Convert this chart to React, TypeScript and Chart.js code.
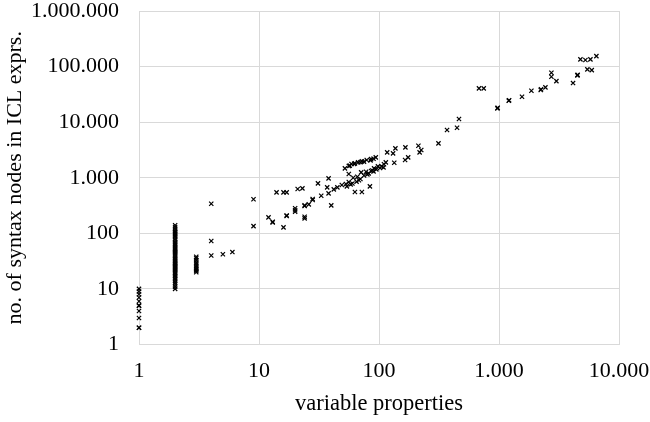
import { useEffect, useRef } from 'react';
import { Chart, registerables } from 'chart.js';

Chart.register(...registerables);

// y values (syntax nodes) of the expressions with 1, 2 and 3 variable properties
const onePropNodes = [2, 2, 3, 4, 5, 5, 6, 7, 8, 9, 10];
const twoPropNodes = [
  10, 11, 12, 13, 14, 15, 16, 17, 18, 19, 20, 21, 22, 23, 24, 25, 26, 27, 28, 29, 30, 32, 34, 36, 38,
  40, 42, 44, 46, 48, 50, 53, 56, 60, 63, 66, 70, 75, 80, 85, 90, 95, 100, 105, 110, 120, 130, 140,
];
const threePropNodes = [20, 21, 22, 23, 24, 26, 28, 30, 33, 36, 38];

// [variable properties, syntax nodes]
const smallPairs: [number, number][] = [
  [4, 40], [4, 73], [4, 340], [5, 42], [6, 46], [9, 135], [9, 410], [12, 194], [13, 157], [13, 162],
  [14, 546], [16, 128], [16, 546], [17, 205], [17, 210], [17, 546], [20, 245], [20, 260], [20, 282],
  [21, 626], [23, 645], [24, 186], [24, 199], [24, 310], [24, 319], [26, 332], [28, 397], [28, 414],
  [31, 793], [33, 474], [37, 672], [38, 524], [38, 975], [40, 319], [42, 618], [45, 672], [49, 739],
];
const midPairs: [number, number][] = [
  [52, 1476], [53, 771], [54, 700], [56, 837], [56, 1166], [56, 1623], [57, 1650], [58, 760],
  [59, 1763], [60, 790], [61, 1000], [62, 1780], [63, 553], [63, 1811], [65, 850], [66, 1042],
  [67, 1892], [68, 900], [70, 950], [70, 1900], [71, 1250], [72, 553], [72, 1972], [75, 1100],
  [75, 1950], [78, 1285], [79, 2080], [80, 1150], [82, 1200], [84, 700], [85, 2050], [86, 1321],
  [86, 2167], [88, 1350], [90, 1300], [90, 2200], [91, 1476], [94, 2328], [95, 1415], [98, 1600],
  [102, 1500], [105, 1600], [109, 1538], [110, 1750], [114, 1892], [117, 2860], [131, 2740],
  [134, 1866], [137, 3375], [165, 2080], [166, 3516], [175, 2328], [213, 3767], [218, 2860], [225, 3150],
];
const largePairs: [number, number][] = [
  [313, 4150], [369, 7210], [447, 7940], [464, 11370], [681, 40570], [746, 40570], [970, 17700],
  [975, 18200], [1205, 24270], [1215, 24800], [1555, 28620], [1862, 36700], [2227, 37800],
  [2240, 39000], [2437, 42270], [2733, 65600], [2733, 77400], [3008, 54800], [4140, 50500],
  [4500, 69400], [4520, 71000], [4770, 134700], [5250, 131000], [5450, 89000], [5780, 134700],
  [5930, 86500], [6480, 154500],
];

const xTickValues = [1, 10, 100, 1000, 10000];
const xTickLabels = ['1', '10', '100', '1.000', '10.000'];
const yTickValues = [1, 10, 100, 1000, 10000, 100000, 1000000];
const yTickLabels = ['1', '10', '100', '1.000', '10.000', '100.000', '1.000.000'];

const xTitle = 'variable properties';
const yTitle = 'no. of syntax nodes in ICL exprs.';

const FONT = '"Liberation Serif", "Times New Roman", serif';
const GRID = '#d9d9d9';

export default function App() {
  const ref = useRef<HTMLCanvasElement | null>(null);

  useEffect(() => {
    if (!ref.current) return;
    const points = [
      ...onePropNodes.map((y) => ({ x: 1, y })),
      ...twoPropNodes.map((y) => ({ x: 2, y })),
      ...threePropNodes.map((y) => ({ x: 3, y })),
      ...[...smallPairs, ...midPairs, ...largePairs].map(([x, y]) => ({ x, y })),
    ];
    const chart = new Chart(ref.current, {
      type: 'scatter',
      data: {
        datasets: [
          {
            data: points,
            pointStyle: 'crossRot',
            radius: 3,
            borderWidth: 1.2,
            borderColor: '#000',
            backgroundColor: '#000',
            clip: false,
          },
        ],
      },
      options: {
        responsive: false,
        animation: false,
        events: [],
        layout: { padding: { left: 0, top: 11, right: 31, bottom: 0 } },
        plugins: { legend: { display: false }, tooltip: { enabled: false } },
        scales: {
          x: {
            type: 'logarithmic',
            min: 1,
            max: 10000,
            afterBuildTicks: (s: any) => {
              s.ticks = xTickValues.map((v) => ({ value: v, major: true }));
            },
            afterFit: (s: any) => {
              s.height = 77.5;
              s.paddingLeft = 0;
              s.paddingRight = 0;
            },
            ticks: {
              autoSkip: false,
              maxRotation: 0,
              padding: 16,
              color: '#000',
              font: { family: FONT, size: 22, lineHeight: 1 },
              callback: (_v: any, i: number) => xTickLabels[i],
            },
            grid: { color: GRID, drawTicks: false, lineWidth: 1 },
            border: { color: GRID },
            title: {
              display: true,
              text: xTitle,
              color: '#000',
              font: { family: FONT, size: 22.5, lineHeight: 1.2 },
              padding: { top: 0, bottom: 4.5 },
            },
          },
          y: {
            type: 'logarithmic',
            min: 1,
            max: 1000000,
            afterBuildTicks: (s: any) => {
              s.ticks = yTickValues.map((v) => ({ value: v, major: true }));
            },
            afterFit: (s: any) => {
              s.width = 139;
              s.paddingTop = 0;
              s.paddingBottom = 0;
            },
            ticks: {
              autoSkip: false,
              padding: 20,
              color: '#000',
              font: { family: FONT, size: 22, lineHeight: 1 },
              callback: (_v: any, i: number) => yTickLabels[i],
            },
            grid: { color: GRID, drawTicks: false, lineWidth: 1 },
            border: { color: GRID },
            title: {
              display: true,
              text: yTitle,
              color: '#000',
              font: { family: FONT, size: 22, lineHeight: 1.2 },
              padding: { top: 2.5, bottom: 0 },
            },
          },
        },
      },
    });
    return () => chart.destroy();
  }, []);

  return (
    <div style={{ position: 'absolute', left: 0, top: 0, width: 650, height: 422, background: '#fff' }}>
      <canvas ref={ref} width={650} height={422} style={{ display: 'block' }} />
    </div>
  );
}
